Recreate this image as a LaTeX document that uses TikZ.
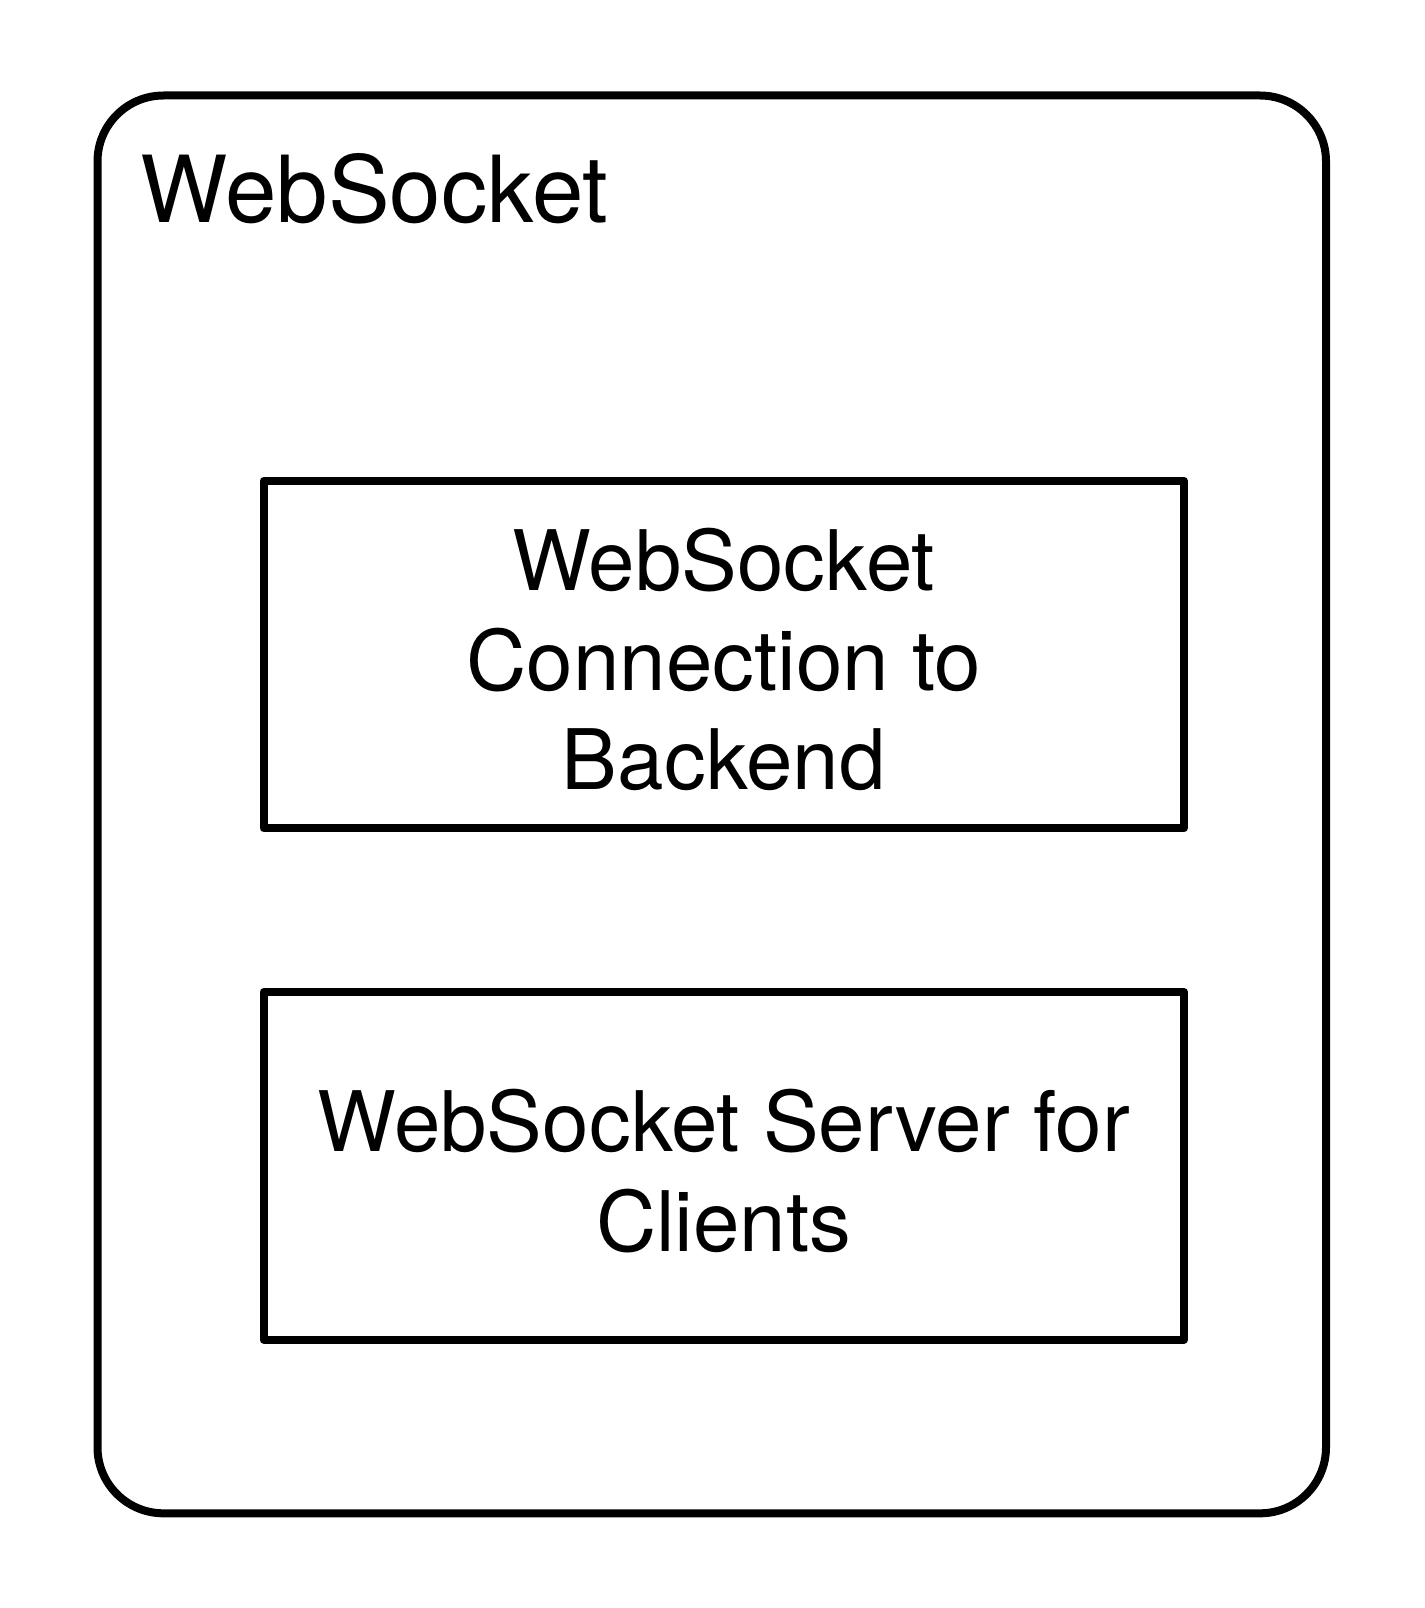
\documentclass[tikz,border=0pt]{standalone}
\usepackage{fontspec}
\setmainfont{TeX Gyre Heros}
\tikzset{
  container/.style={draw, line width=8pt, rounded corners=66pt, inner sep=0pt},
  compbox/.style={draw, line width=8pt, line join=round, inner sep=0pt,
    minimum width=920.5pt, minimum height=347.5pt},
  boxtext/.style={align=center, inner sep=0pt, yshift=-5pt,
    font=\fontsize{83.5}{99.5}\selectfont},
  titletext/.style={inner sep=0pt, anchor=base west, font=\fontsize{92.5}{110}\selectfont}
}
\begin{document}
\begin{tikzpicture}[x=1pt,y=-1pt]
\useasboundingbox (0,0) rectangle (1424,1608);
\node[container, minimum width=1228.5pt, minimum height=1417.8pt] (outer) at (711.75,804.4) {};
\node[titletext] (title) at (140.5,222.3) {WebSocket};
\node[compbox, label={[boxtext]center:WebSocket\\Connection to\\Backend}] (conn) at (723.75,654.5) {};
\node[compbox, label={[boxtext]center:WebSocket Server for\\Clients}] (server) at (723.75,1165.8) {};
\end{tikzpicture}
\end{document}
